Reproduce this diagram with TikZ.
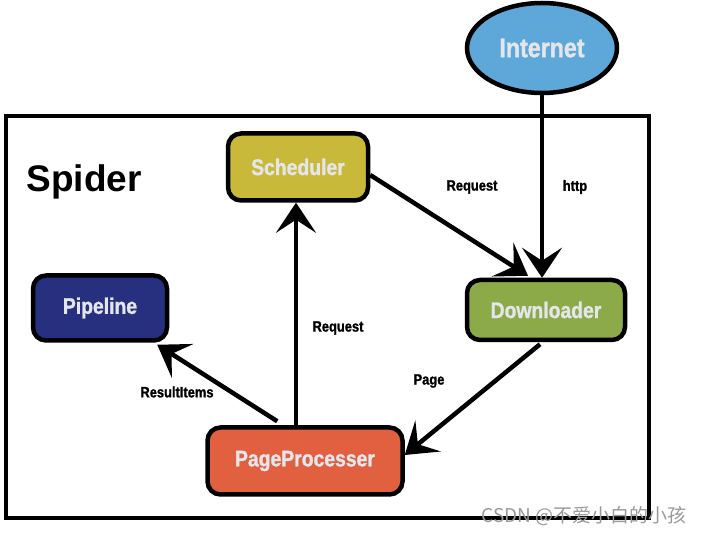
\documentclass[tikz,border=0pt]{standalone}
\usepackage{fontspec}
\setmainfont{Liberation Sans}
\newfontfamily\labfont[FakeStretch=0.86,FakeBold=1.2]{Liberation Sans}
\newfontfamily\cjkfont{Noto Sans CJK SC}
\usetikzlibrary{arrows.meta,calc,shapes.geometric}
\definecolor{netblue}{HTML}{5DA8D9}
\definecolor{schedcol}{HTML}{C8B93A}
\definecolor{pipecol}{HTML}{27307E}
\definecolor{downcol}{HTML}{8DAA48}
\definecolor{ppcol}{HTML}{E1603F}
\definecolor{boxtext}{HTML}{E4E6EC}
\definecolor{wmgray}{HTML}{9A9A9A}
\tikzset{
  compbox/.style={draw=black, line width=4.5pt, rounded corners=13pt, text=boxtext,
    font=\labfont\bfseries\fontsize{22.5}{25}\selectfont, inner sep=0pt},
  flow/.style={draw=black, line width=4.5pt,
    -{Stealth[length=30pt,width=40pt,inset=13pt]}},
  lbl/.style={font=\labfont\bfseries\fontsize{15}{17}\selectfont, text=black, inner sep=0pt}
}
\begin{document}
\begin{tikzpicture}[x=1pt,y=-1pt]
\useasboundingbox (0,0) rectangle (705,534);
% frame
\draw[line width=4.5pt] (6,116) rectangle (649,518);
\node[font=\bfseries\fontsize{37}{40}\selectfont, anchor=center] (spider) at (84,182) {Spider};
% nodes
\node[ellipse, draw=black, line width=4.5pt, fill=netblue, minimum width=150pt, minimum height=90pt,
      text=boxtext, font=\labfont\bfseries\fontsize{27}{30}\selectfont] (internet) at (542,48) {Internet};
\node[compbox, fill=schedcol, minimum width=140pt, minimum height=67pt] (sched) at (298,167) {Scheduler};
\node[compbox, fill=pipecol, minimum width=134pt, minimum height=65pt] (pipe) at (100,308) {Pipeline};
\node[compbox, fill=downcol, minimum width=158pt, minimum height=60pt] (down) at (546,310) {Downloader};
\node[compbox, fill=ppcol, minimum width=195pt, minimum height=67pt] (pp) at (305,461) {PageProcesser};
% connectors
\draw[flow] (internet.south) -- (internet.south |- down.north);
\draw[flow] ($(sched.east)+(0,8)$) -- ($(down.north)+(-18,-2)$);
\draw[flow] ($(pp.north)+(-9,0)$) -- ($(sched.south)+(-2,0)$);
\draw[flow] ($(pp.north west)+(72,-4)$) -- ($(pipe.south east)+(-12,2)$);
\draw[flow] ($(down.south)+(-6,2)$) -- ($(pp.east)+(0,-6)$);
% labels
\node[lbl] (lreq1) at (472,187) {Request};
\node[lbl] (lhttp) at (575,187) {http};
\node[lbl] (lreq2) at (338,328) {Request};
\node[lbl] (lres) at (177,392) {ResultItems};
\node[lbl] (lpage) at (429,381) {Page};
% watermark
\node[text=wmgray, font=\cjkfont\fontsize{19}{21}\selectfont, anchor=center] (wm) at (584,516) {CSDN @不爱小白的小孩};
\end{tikzpicture}
\end{document}
